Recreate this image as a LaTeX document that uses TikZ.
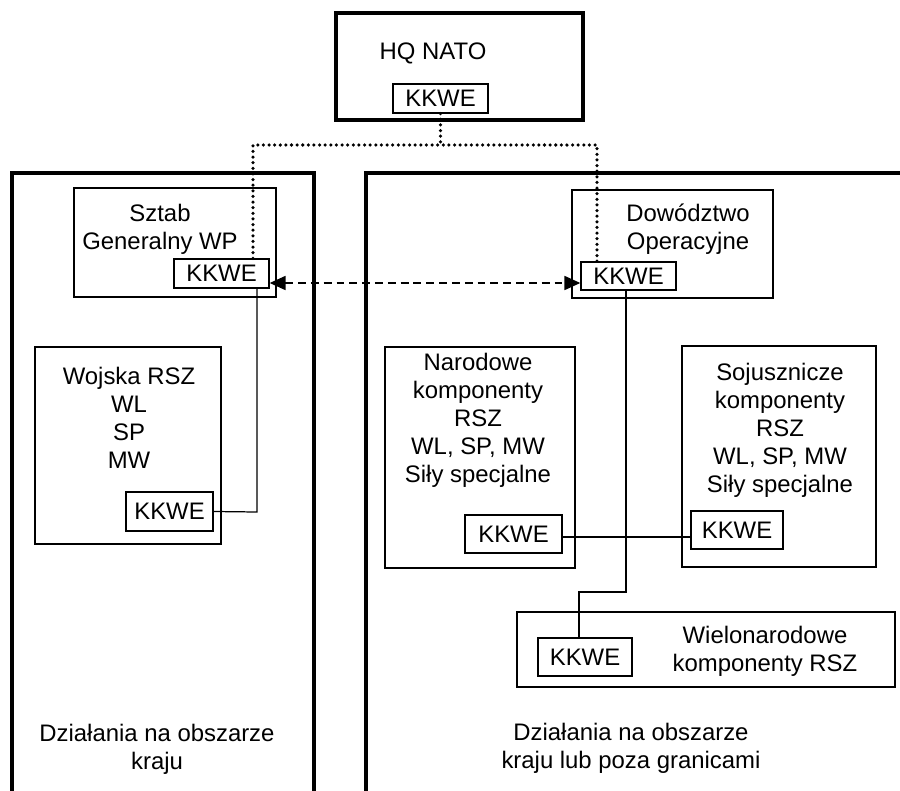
\documentclass[tikz,border=0pt]{standalone}
\usepackage{fontspec}
\setmainfont{Liberation Sans}
\usetikzlibrary{arrows.meta}

\begin{document}
\begin{tikzpicture}[x=0.02cm, y=-0.02cm,
  font=\fontsize{13.6pt}{15.9pt}\selectfont,
  region/.style={line width=2pt},
  boss/.style={draw, line width=2.2pt, inner sep=0pt},
  unit/.style={draw, line width=0.8pt, inner sep=0pt},
  kkwe/.style={draw, line width=0.8pt, inner sep=0pt},
  txt/.style={inner sep=0pt, align=center},
  dotline/.style={line width=2pt, line cap=round, dash pattern=on 0pt off 3.2pt},
  link/.style={line width=0.7pt},
  liaison/.style={line width=0.7pt, dash pattern=on 4.5pt off 2.8pt,
    {Triangle[length=9pt,width=8pt]}-{Triangle[length=9pt,width=8pt]}}]
  \useasboundingbox (0,0) rectangle (900,791);

  % the two areas
  \draw[region] (12,795) -- (12,173) -- (314,173) -- (314,795);
  \draw[region] (366,795) -- (366,173) -- (905,173);

  % top
  \node[boss, minimum width=4.94cm, minimum height=2.14cm] (hq) at (459.5,66.5) {};
  \node[txt] (hqT) at (433,53) {HQ NATO};
  \node[kkwe, minimum width=1.9cm, minimum height=0.58cm] (hqK) at (440.5,98.5) {KKWE};

  % left area
  \node[unit, minimum width=4.04cm, minimum height=2.18cm] (sg) at (175,242.5) {};
  \node[txt] (sgT) at (160,229) {Sztab\\Generalny WP};
  \node[kkwe, minimum width=1.9cm, minimum height=0.58cm] (sgK) at (221.5,273.5) {KKWE};

  \node[unit, minimum width=3.72cm, minimum height=3.94cm] (wo) at (128,445.5) {};
  \node[txt] (woT) at (129,418) {Wojska RSZ\\WL\\SP\\MW};
  \node[kkwe, minimum width=1.74cm, minimum height=0.78cm] (woK) at (169.5,511.5) {KKWE};

  \node[txt] (kraj) at (157,749) {Działania na obszarze\\kraju};

  % right area
  \node[unit, minimum width=4.02cm, minimum height=2.16cm] (do) at (672.5,244) {};
  \node[txt] (doT) at (688,229) {Dowództwo\\Operacyjne};
  \node[kkwe, minimum width=1.9cm, minimum height=0.56cm] (doK) at (628.5,276) {KKWE};

  \node[unit, minimum width=3.8cm, minimum height=4.42cm] (na) at (480,457.5) {};
  \node[txt] (naT) at (478,420) {Narodowe\\komponenty\\RSZ\\WL, SP, MW\\Siły specjalne};
  \node[kkwe, minimum width=1.94cm, minimum height=0.76cm] (naK) at (513.5,534) {KKWE};

  \node[unit, minimum width=3.88cm, minimum height=4.42cm] (so) at (779,456.5) {};
  \node[txt] (soT) at (780,430) {Sojusznicze\\komponenty\\RSZ\\WL, SP, MW\\Siły specjalne};
  \node[kkwe, minimum width=1.84cm, minimum height=0.76cm] (soK) at (737,530) {KKWE};

  \node[unit, minimum width=7.56cm, minimum height=1.5cm] (wm) at (706,649.5) {};
  \node[txt] (wmT) at (765,651) {Wielonarodowe\\komponenty RSZ};
  \node[kkwe, minimum width=1.88cm, minimum height=0.76cm] (wmK) at (585,657) {KKWE};

  \node[txt] (zagr) at (631,748) {Działania na obszarze\\kraju lub poza granicami};

  % connections
  \coordinate (dL) at (253,145);
  \coordinate (dR) at (597,145);
  \draw[dotline] (hqK.south) -- (hqK.south |- dL);
  \draw[dotline] (sgK.north -| dL) -- (dL) -- (dR) -- (doK.north -| dR);

  \coordinate (dash) at (0,283);
  \draw[liaison] (sgK.east |- dash) -- (doK.west |- dash);

  \coordinate (c1) at (257,512);
  \draw[link] (sgK.south -| c1) -- (c1) -- (woK.east);

  \coordinate (c2) at (0,537);
  \draw[link] (naK.east |- c2) -- (soK.west |- c2);

  \coordinate (b1) at (626,592);
  \coordinate (b2) at (579,592);
  \draw[link] (doK.south -| b1) -- (b1) -- (b2) -- (wmK.north -| b2);
\end{tikzpicture}
\end{document}
